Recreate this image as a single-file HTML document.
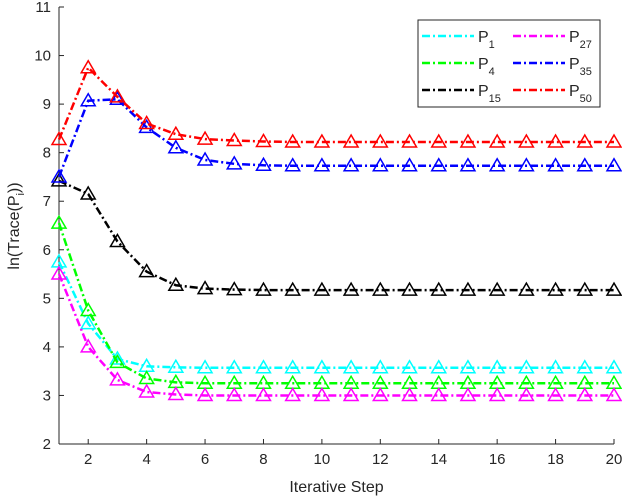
<!DOCTYPE html>
<html><head><meta charset="utf-8"><style>
body{margin:0;background:#fff;font-family:"Liberation Sans",sans-serif}
svg text{font-family:"Liberation Sans",sans-serif;fill:#262626}
</style></head><body>
<svg id="chart" width="622" height="498" xmlns="http://www.w3.org/2000/svg">
<g id="axes"></g><g id="series"></g><g id="legend"></g>
</svg>
<script>
const steps=[1,2,3,4,5,6,7,8,9,10,11,12,13,14,15,16,17,18,19,20];
const p1=[5.75,4.48,3.75,3.6,3.58,3.57,3.57,3.57,3.57,3.57,3.57,3.57,3.57,3.57,3.57,3.57,3.57,3.57,3.57,3.57];
const p4=[6.55,4.75,3.68,3.35,3.27,3.25,3.25,3.25,3.25,3.25,3.25,3.25,3.25,3.25,3.25,3.25,3.25,3.25,3.25,3.25];
const p15=[7.42,7.15,6.17,5.55,5.27,5.2,5.18,5.17,5.17,5.17,5.17,5.17,5.17,5.17,5.17,5.17,5.17,5.17,5.17,5.17];
const p27=[5.5,4.0,3.32,3.07,3.02,3.0,3.0,3.0,3.0,3.0,3.0,3.0,3.0,3.0,3.0,3.0,3.0,3.0,3.0,3.0];
const p35=[7.5,9.07,9.1,8.52,8.1,7.85,7.77,7.74,7.73,7.73,7.73,7.73,7.73,7.73,7.73,7.73,7.73,7.73,7.73,7.73];
const p50=[8.27,9.75,9.15,8.6,8.38,8.28,8.25,8.23,8.22,8.22,8.22,8.22,8.22,8.22,8.22,8.22,8.22,8.22,8.22,8.22];
const xTicks=[2,4,6,8,10,12,14,16,18,20];
const yTicks=[2,3,4,5,6,7,8,9,10,11];
const seriesNames=["P1","P4","P15","P27","P35","P50"];
const seriesSubs=["1","4","15","27","35","50"];
const seriesColors=["#00ffff","#00ff00","#000000","#ff00ff","#0000ff","#ff0000"];
const seriesData=[p1,p4,p15,p27,p35,p50];
const L=59,R=614,T=7,B=444;
const xs=v=>L+(v-1)/(19)*(R-L);
const ys=v=>B-(v-2)/9*(B-T);
const NS="http://www.w3.org/2000/svg";
function mk(t,a,p){const e=document.createElementNS(NS,t);for(const k in a)e.setAttribute(k,a[k]);p.appendChild(e);return e;}
const ax=document.getElementById('axes');
let e=mk('line',{x1:L,y1:B,x2:R,y2:B,stroke:'#262626','stroke-width':1},ax);

e=mk('line',{x1:L,y1:T,x2:L,y2:B,stroke:'#262626','stroke-width':1},ax);

xTicks.forEach(v=>{
 mk('line',{x1:xs(v),y1:B,x2:xs(v),y2:B-5,stroke:'#262626'},ax);
 const t=mk('text',{x:xs(v),y:B+20,'text-anchor':'middle','font-size':15},ax);t.textContent=v;
 
});
yTicks.forEach(v=>{
 mk('line',{x1:L,y1:ys(v),x2:L+5,y2:ys(v),stroke:'#262626'},ax);
 const t=mk('text',{x:L-8,y:ys(v)+5,'text-anchor':'end','font-size':15},ax);t.textContent=v;
 
});
let t=mk('text',{x:(L+R)/2,y:492,'text-anchor':'middle','font-size':16},ax);t.textContent='Iterative Step';

t=mk('text',{transform:'translate(19,226) rotate(-90)','text-anchor':'middle','font-size':16},ax);
t.innerHTML='ln(Trace(P<tspan font-size="11" dy="5">i</tspan><tspan dy="-5">))</tspan>';

const sg=document.getElementById('series');
seriesData.forEach((d,i)=>{
 const g=mk('g',{},sg);
 
 
 mk('polyline',{points:d.map((v,j)=>xs(steps[j])+','+ys(v)).join(' '),fill:'none',stroke:seriesColors[i],'stroke-width':2.5,'stroke-dasharray':'8 3 2 3'},g);
 d.forEach((v,j)=>{const x=xs(steps[j]),y=ys(v);
  const m=mk('polygon',{points:`${x},${y-7} ${x-7},${y+5} ${x+7},${y+5}`,fill:'none',stroke:seriesColors[i],'stroke-width':1.5},g);
  });
});
const lg=document.getElementById('legend');
e=mk('rect',{x:418,y:20,width:182,height:87,fill:'#fff',stroke:'#262626','stroke-width':1},lg);

seriesNames.forEach((n,i)=>{
 const col=i<3?0:1,row=i%3;const x0=422+col*91,y0=36+row*27;
 const g=mk('g',{},lg);
 
 mk('line',{x1:x0,y1:y0,x2:x0+52,y2:y0,stroke:seriesColors[i],'stroke-width':2.5,'stroke-dasharray':'8 3 2 3'},g);
 const tx=mk('text',{x:x0+56,y:y0+6,'font-size':16},g);
 tx.innerHTML='P<tspan font-size="11" dy="6">'+seriesSubs[i]+'</tspan>';
});
</script>
</body></html>
